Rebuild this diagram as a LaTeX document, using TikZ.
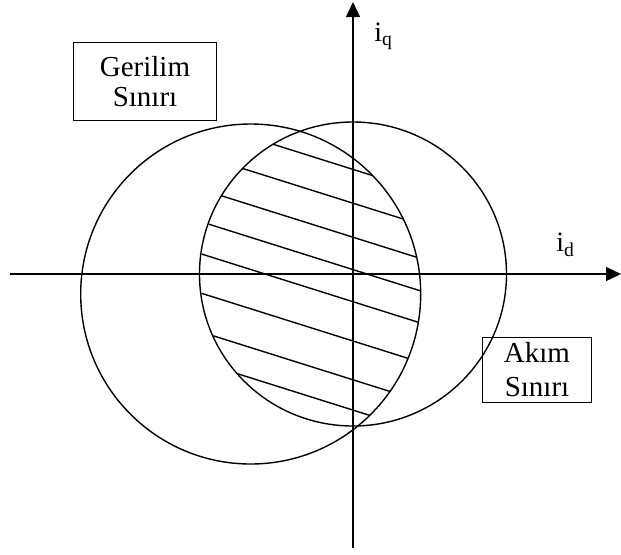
\documentclass[tikz,border=0pt]{standalone}
\usepackage{fontspec}
\setmainfont{Liberation Serif}
\usetikzlibrary{arrows.meta}

\begin{document}
\begin{tikzpicture}[x=.5pt,y=.5pt,>={Triangle[length=7.5pt,width=7pt]},
 a/.style={line width=.7pt},
 h/.style={line width=.7pt},
 b/.style={draw,line width=.6pt,align=center,inner sep=0pt},
 l/.style={anchor=base west,inner sep=0pt,font=\fontsize{14}{16}\selectfont}]
 \useasboundingbox (-353,-280) rectangle (268,274);
 % axes
 \coordinate (o) at (0,0);
 \coordinate (xl) at (-343,0);
 \coordinate (xr) at (268,0);
 \coordinate (yb) at (0,-274);
 \coordinate (yt) at (0,272);
 \draw[a,->] (xl) -- (xr);
 \draw[a,->] (yb) -- (yt);
 \node[l] (id) at (203,22.3) {i\textsubscript{d}};
 \node[l] (iq) at (21,233) {i\textsubscript{q}};
 % hatched region
 \begin{scope}
  \clip (0,0) circle[radius=152.5];
  \clip (-102.3,-20) circle[radius=170];
  \foreach \c in {104.6,70.8,36.8,4.4,-27.7,-67,-105.8,-136.1}
   \draw[h] (-200,\c+63) -- (200,\c-63);
 \end{scope}
 % limit circles
 \draw[a] (0,0) circle[x radius=153.5,y radius=152];
 \draw[a] (-102.3,-20) circle[radius=170];
 \coordinate (top) at (0,152);
 \draw[line width=1.35pt] (o) -- (top);
 \node[b,minimum width=71.7pt,minimum height=39pt,font=\fontsize{14.5}{15}\selectfont] (gerilim) at (-208,192.3) {Gerilim\\Sınırı};
 \node[b,minimum width=54.7pt,minimum height=32.5pt,font=\fontsize{14.5}{17}\selectfont] (akim) at (184,-95.8) {Akım\\Sınırı};
\end{tikzpicture}
\end{document}
